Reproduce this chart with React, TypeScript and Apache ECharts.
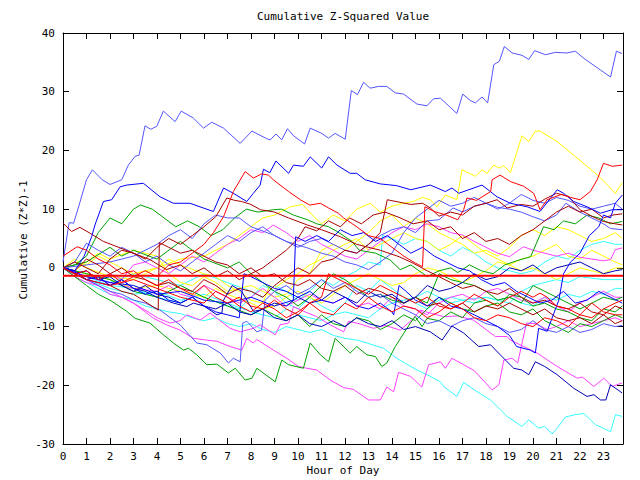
import React, { useEffect, useRef } from "react";
import * as echarts from "echarts";

const TITLE = "Cumulative Z-Squared Value";
const X_NAME = "Hour of Day";
const Y_NAME = "Cumulative (Z*Z)-1";
const X_MIN = 0;
const X_MAX = 23.83;
const Y_MIN = -30;
const Y_MAX = 40;
const REF_LEVEL = -1.35;

const sb1 = [[0,1],[0.26,7.7],[0.45,7.6],[0.65,10.2],[1.0,15],[1.25,16.7],[1.67,15],[2.0,14.2],[2.5,15],[2.78,17.5],[3.07,19],[3.24,19.2],[3.49,24.2],[3.73,23.6],[3.99,24.1],[4.27,26.7],[4.77,24.9],[5.03,26.7],[5.55,25.5],[5.98,23.8],[6.33,24.8],[6.83,23.8],[7.54,21.2],[8.04,23.3],[8.67,22],[8.82,21.8],[9.06,22.8],[9.31,21.8],[9.55,23.7],[9.81,22.5],[10.28,21.1],[10.52,23.8],[11.01,22.9],[11.3,22.1],[11.58,22.9],[12.01,21.9],[12.27,30.2],[12.53,29.5],[12.79,31.6],[13.07,30.6],[13.43,30.9],[13.78,30.9],[14.14,29.8],[14.49,29.6],[15.06,27.9],[15.49,27.6],[15.77,28.8],[16.06,28.9],[16.76,26.3],[17.01,29.6],[17.33,28.5],[17.55,28.1],[17.83,29.1],[18.07,28.1],[18.33,34.6],[18.57,35.2],[18.78,37.7],[19.11,36.6],[19.53,36.2],[19.82,35.5],[20.07,37],[20.53,36.3],[20.95,36.7],[21.45,36.6],[21.8,36.9],[22.16,35.7],[22.87,33.7],[23.3,32.5],[23.55,36.9],[23.79,36.5]];

const b2 = [[0,0],[0.5,-0.5],[0.9,2],[1.22,5.3],[1.36,7.3],[1.72,11.3],[2.07,11.6],[2.43,13.8],[2.71,14.1],[3.42,14.4],[4.13,12.1],[4.7,11],[5.4,11],[6.4,9.6],[6.83,13.6],[7.25,12.7],[7.82,11.3],[8.1,12.7],[8.39,14.1],[8.53,16.8],[8.8,16.2],[9.06,18.2],[9.6,16.1],[9.81,17.5],[10.23,17.3],[10.52,18.9],[11.01,17],[11.3,18.9],[11.66,17.5],[12.22,16.1],[12.5,16.1],[12.86,15],[13.5,14.3],[14.2,14],[14.8,13.3],[15.63,14.1],[16.27,13],[16.55,13.6],[16.84,12.7],[17.83,14.1],[18.47,12.1],[19.04,11],[19.75,10.4],[20.3,9.6],[21.03,13.3],[21.3,12.7],[21.73,11.3],[22.3,10.4],[22.87,9.3],[23.37,9.9],[23.79,9.9]];

const r1 = [[0,0],[0.5,-1],[1,-0.5],[1.5,-2],[2,-1],[2.5,-2.5],[3,-1.5],[3.5,-0.5],[4,-1.5],[4.5,0.5],[5,1],[5.5,2.5],[6,4],[6.4,6],[6.83,8.7],[7.25,13],[7.75,16.4],[8.1,15.3],[8.45,16],[8.74,15.8],[8.95,15],[9.6,13],[10.1,11.6],[10.5,10.7],[10.95,11],[11.3,10.2],[11.72,9.3],[11.94,8.5],[12.5,7],[13,5.5],[13.5,5],[14,3.5],[14.5,2],[15,0.8],[15.3,0.2],[15.4,10.4],[15.8,9.6],[16.3,9],[16.8,8.2],[17.05,9.9],[17.19,11.9],[17.6,11.5],[18.2,13],[18.26,15],[18.6,15.8],[19.04,14.7],[19.6,13.9],[20.03,12.7],[20.3,9.9],[20.6,11.6],[21.2,12.5],[21.6,12],[22,11.6],[22.44,13],[22.73,15],[23,17.8],[23.37,17.3],[23.79,17.5]];

const y1 = [[0,0],[0.5,1],[1,0.5],[1.5,2],[2,1],[3,-1],[4,0],[5,1.5],[6,2],[7,4],[8,7],[8.5,8.5],[9,9],[9.67,10.4],[10.2,10.8],[10.6,9],[11,7.5],[11.5,9],[12,8],[12.5,10],[13.07,11],[13.5,9.5],[14,10.5],[14.5,11],[14.9,11.3],[15.3,12],[15.63,11.6],[15.91,10.4],[16.27,12.4],[16.76,11.6],[16.98,16.7],[17.55,15.6],[17.83,16.7],[18.04,16.1],[18.33,17.5],[18.55,17],[18.76,17.4],[19.04,16.2],[19.53,22.5],[19.82,21.5],[20.1,23.3],[20.3,23.3],[21.03,21.5],[21.73,19.2],[22.3,17.3],[22.8,15.6],[23.2,14],[23.5,12.7],[23.8,14.5]];

const dr1 = [[0,7.6],[0.37,6.2],[0.72,6.9],[1.15,5.9],[1.72,4.5],[2.43,3.4],[3,2.5],[3.7,1.4],[4.4,-0.3],[5,0.5],[5.5,-1],[6,0],[6.5,-1.5],[7,-0.5],[7.5,-2],[8,-1],[8.5,0],[9,1.5],[9.5,3],[10,5],[10.3,7],[10.8,6.3],[11.3,8],[11.8,7],[12.2,8.5],[12.7,7.5],[13.2,9],[13.7,9.5],[14.3,8.6],[14.9,7.5],[15.5,8],[16,6.5],[16.5,7],[17,5],[17.5,6],[18,4.5],[18.5,5],[19,4],[19.5,5.5],[20,6.5],[20.5,8],[21,9.5],[21.5,10.5],[22,9.5],[22.5,10],[23,8.5],[23.4,9],[23.8,9.2]];

const r2 = [[0,2],[0.6,3.6],[1,3],[1.5,1.5],[2,0.5],[2.5,-1],[3,-0.5],[3.5,-2],[4,-3],[4.5,-2],[5,-3.5],[5.5,-4.5],[6,-3],[6.5,-5],[7,-6],[7.5,-5],[8,-6.5],[8.5,-7],[9,-5.5],[9.5,-7],[10,-8],[10.5,-6],[11,-7.5],[11.5,-8],[12,-6],[12.5,-7],[13,-5],[13.5,-6.5],[14,-7.5],[14.5,-6.5],[15,-7],[15.5,-8.5],[16,-7.5],[16.5,-6],[17,-7],[17.5,-8.5],[18,-9],[18.5,-8],[19,-8.5],[19.5,-9.5],[20,-10],[20.5,-8.5],[21,-9],[21.5,-10],[22,-8],[22.5,-6],[23,-7.5],[23.5,-8],[23.8,-8]];

const g1 = [[0,0],[0.5,-1.5],[1,-3],[1.5,-4.5],[2,-5.5],[2.71,-7.4],[3.07,-8.6],[3.7,-9.4],[4.27,-11.4],[4.7,-12.8],[5.12,-14],[5.34,-13.7],[5.69,-14.8],[6.12,-16.5],[6.55,-16.4],[7.04,-17.9],[7.33,-17.1],[7.75,-19.1],[8.04,-18.8],[8.25,-17.1],[9.03,-19.4],[9.31,-15.7],[9.6,-16.5],[10.23,-17.1],[10.52,-12.8],[10.95,-14.8],[11.3,-16],[11.58,-12],[12.22,-14.5],[12.5,-13.4],[12.93,-14.8],[13.29,-15.1],[13.57,-16.8],[13.78,-16.2],[14.14,-13.4],[14.78,-9.4],[14.99,-8.3],[15.28,-10],[15.49,-8.6],[16,-9],[16.5,-7.5],[17,-8.5],[17.5,-6],[18,-5.5],[18.5,-6.5],[19,-4.5],[19.5,-5],[20,-6.5],[20.5,-6],[21,-7],[21.5,-7.5],[22,-8.5],[22.5,-9],[23,-7],[23.5,-7.5],[23.8,-6.5]];

const m1 = [[0,0],[0.5,-1],[1,-2],[1.5,-3],[2,-4],[2.5,-5],[3,-6],[3.5,-7.5],[3.85,-8.6],[4.41,-9.7],[4.98,-10.6],[5.55,-12],[6.1,-12.3],[6.55,-12.5],[7.11,-13.4],[7.61,-14],[7.82,-12],[8.1,-12.8],[8.25,-12.2],[8.95,-14],[9.52,-15.4],[10.02,-16.8],[10.38,-17.1],[10.8,-17.4],[11.37,-19.1],[11.94,-20.4],[12.36,-20.7],[13,-22.5],[13.5,-22.5],[13.78,-20.3],[14.07,-21.1],[14.28,-17.8],[14.8,-18.5],[15.27,-20.3],[15.56,-16.5],[16.06,-16],[16.27,-17.1],[16.55,-15.4],[17.05,-16.5],[17.5,-17.5],[18.26,-20.8],[18.55,-19.9],[18.76,-15.7],[19.11,-15.4],[19.35,-16.2],[19.72,-9.4],[20.1,-9.5],[20.6,-10.5],[21,-10],[21.5,-9],[22,-10],[22.5,-9.5],[23,-9],[23.5,-8.5],[23.8,-9]];

const m2 = [[0,0],[0.5,-1.5],[1,-2.5],[1.5,-3],[2,-4.5],[2.5,-5],[3,-6],[3.7,-7.7],[4.06,-8.6],[4.56,-9.4],[4.98,-9],[5.27,-8],[5.83,-8.9],[6.26,-7.7],[7.11,-10.3],[7.54,-10.9],[8.1,-10.3],[8.39,-9.7],[9.03,-11.4],[9.24,-9.7],[9.6,-9.4],[9.81,-6.6],[10.3,-7.5],[10.8,-8.3],[11.37,-9.7],[11.94,-10.9],[12.15,-9.1],[12.6,-9.5],[13.21,-10.3],[13.7,-9.8],[14.35,-10.6],[14.92,-8.6],[15.2,-7.2],[15.63,-7.7],[16.2,-8.3],[16.8,-8.2],[17.47,-8.9],[18.4,-11.7],[18.9,-11.7],[19.04,-12.3],[20.17,-14.5],[21.03,-16.8],[21.88,-18.8],[22.1,-18.6],[22.59,-20.2],[23.01,-18.8],[23.37,-20.2],[23.79,-19.6]];

const c1 = [[0,0],[0.5,-1.5],[1,-2.5],[1.5,-3.5],[2,-4.5],[2.5,-5],[3,-5.5],[3.5,-6.5],[4,-7],[4.5,-7.5],[5,-7.8],[5.5,-8.5],[6,-9],[6.5,-8.5],[7,-9.5],[7.5,-10],[8,-9.5],[8.5,-10.5],[9,-11],[9.5,-10],[10,-10.5],[10.5,-11],[11,-10.5],[11.5,-11.5],[12,-12],[12.5,-12.3],[12.93,-12.8],[13.64,-13.7],[14.2,-15.4],[15.06,-17.4],[15.49,-18.2],[16.06,-19.4],[16.2,-20.2],[16.76,-21.9],[17.05,-19.5],[17.62,-21.1],[18.19,-22.5],[18.9,-25.3],[19.53,-27],[19.82,-25.9],[20.24,-27.3],[20.5,-27],[20.81,-28.3],[21.03,-27.3],[21.38,-25.4],[21.8,-25],[22.16,-24.8],[22.66,-26.7],[23.3,-27.9],[23.51,-25],[23.79,-25.3]];

const nv1 = [[0,0],[0.5,-1],[1,-0.5],[1.5,-2],[2,-1.5],[2.5,-3],[3,-4],[3.5,-3],[4,-4.5],[4.5,-5],[5,-6],[5.5,-5],[6,-6.5],[6.5,-7],[7,-6],[7.5,-7.5],[8,-8],[8.5,-7],[9,-8.5],[9.5,-9],[10,-8],[10.5,-9.5],[11,-10],[11.5,-9],[12,-10],[12.5,-8.5],[13,-9.5],[13.5,-10],[14,-9],[14.5,-10.5],[15,-10],[15.63,-10.9],[16.13,-12.3],[16.55,-9.9],[17.05,-11.1],[17.69,-13.4],[18.19,-13.1],[18.9,-16],[19.18,-17.1],[19.53,-17.4],[19.82,-18.2],[20.1,-16],[20.5,-16.8],[21.03,-18.2],[21.73,-20.5],[22.3,-21.9],[22.59,-21.6],[22.87,-22.5],[23.1,-22.5],[23.3,-19.9],[23.79,-21.3]];

const b3 = [[0,0],[0.5,-0.5],[1,-2],[1.5,-1.5],[2,-3],[2.5,-2],[3,-3.5],[3.5,-4.5],[4,-4],[4.5,-5.5],[5,-6],[5.5,-5],[6,-6.5],[6.5,-7.5],[7,-8],[7.5,-8.5],[7.7,-1],[8,-1.5],[8.5,-2.5],[9,-3.5],[9.5,-4],[10,-5],[10.5,-4],[11,-5.5],[11.5,-6],[12,-5],[12.5,-6.5],[13,-7],[13.5,-6],[14,-7.5],[14.07,-8],[14.3,-3],[14.6,-4],[15,-5.5],[15.5,-6.5],[16,-5],[16.5,-6.5],[17,-7],[17.5,-8],[18,-9],[18.5,-10],[19,-11.5],[19.3,-13.4],[19.88,-14],[20.1,-14.5],[20.24,-10.3],[20.6,-10.8],[21.1,-5.5],[21.3,-1],[21.6,1],[22,2.5],[22.4,5.5],[22.8,7],[23,9],[23.3,8.5],[23.5,11],[23.8,12.4]];

const b4 = [[0,0],[1,-1.5],[2,-2.5],[3,-3],[4,-4.5],[5,-4],[6,-5.5],[7,-6],[8,-5],[9,-6.5],[9.8,-5.5],[9.9,5.3],[10.3,4.5],[10.8,5.5],[11.3,4.5],[11.8,6.5],[12.3,5.5],[12.8,6],[13.3,4.5],[13.8,5.5],[14.3,4],[14.8,2.5],[15.3,3.5],[15.8,2],[16.3,1],[16.8,0],[17.3,-0.5],[17.8,-2],[18.3,-3],[18.8,-2.5],[19.3,-4],[19.8,-5],[20.3,-6],[20.8,-5.5],[21.3,-4],[21.8,-6],[22.3,-5.5],[22.8,-4],[23.3,-5],[23.8,-6]];

const g2 = [[0,0],[0.5,0.5],[1,2],[1.5,6],[2,8.5],[2.5,7.5],[3,10],[3.3,10.7],[3.8,10],[4.3,8.5],[4.8,7],[5.3,8],[5.8,7],[6.3,5.5],[6.8,6.5],[7.3,8.5],[7.8,10],[8.3,9.5],[8.95,9.9],[9.3,10],[9.8,9],[10.4,8.2],[10.8,7.5],[11.3,7],[11.66,6.2],[12.3,4.5],[12.6,3],[13.3,2.5],[13.9,1.4],[14.35,-0.3],[14.8,0.5],[15.5,-1.5],[16,-0.5],[16.5,0],[16.8,-0.8],[17.3,0.5],[17.8,-0.5],[18.3,-1],[18.8,0.5],[19.3,1.2],[19.9,1.9],[20.45,7],[20.9,6.5],[21.3,8],[21.8,7.5],[22.3,9],[22.8,8.5],[23.3,7.5],[23.8,7.9]];

const g3 = [[0,0],[1,1],[2,3.5],[2.5,2],[3,3],[4,1.5],[5,4.5],[5.5,3],[6,1.5],[7,0],[7.5,1],[8,-1],[8.5,-2.5],[9,-4],[9.5,-5],[10,-6.5],[10.5,-5],[11,-3],[11.5,-1],[12,-2],[12.5,-3.5],[13,-5],[13.5,-4.5],[14,-5.5],[14.5,-6],[15,-5],[15.5,-6],[16,-1],[16.5,-2],[17,-2.5],[17.5,-3],[18,-4],[18.5,-5.5],[19,-5],[19.5,-6],[20,-3],[20.5,-4],[21,-5],[21.5,-6],[22,-7],[22.5,-6],[23,-5],[23.5,-5.5],[23.8,-5]];

const g4 = [[0,0],[1,-1],[2,-2],[3,-4],[4,-5],[5,-3],[6,-5],[7,-6.5],[8,-8],[8.5,-7],[9,-8],[9.5,-9],[10,-8],[10.5,-10],[11,-8],[11.5,-9.5],[12,-10],[12.5,-8.5],[13,-9],[13.5,-10.5],[14,-9.5],[14.5,-8],[15,-9],[15.5,-7],[16,-5],[16.5,-6],[17,-7],[17.5,-7.5],[18,-6.5],[18.5,-6],[19,-7.5],[19.5,-8],[20,-7],[20.5,-9],[21,-10],[21.5,-11],[22,-9.5],[22.5,-10],[23,-9],[23.5,-8],[23.8,-8.5]];

const c2 = [[0,0],[1,-1.5],[2,-3],[3,-3.5],[4,-5],[5,-6],[5.5,-4],[6,-5],[7,-6.5],[7.5,-7],[8,-5],[8.5,-3],[9,-4],[9.5,-6],[10,-7],[10.5,-5],[11,-6.5],[11.5,-7.5],[12,-6],[12.5,-3],[13,-4],[13.5,-2],[14,-3.5],[14.5,-5],[15,-6],[15.5,-7],[16,-5.5],[16.5,-5],[17,-5.5],[17.5,-6],[18,-5],[18.5,-5.5],[19,-5],[19.5,-6],[20,-6.5],[20.5,-5],[21,-5.5],[21.5,-4.5],[22,-5],[22.5,-4],[23,-4.5],[23.5,-3.5],[23.8,-3.5]];

const c3 = [[0,0],[1,-1],[2,-2.5],[3,-1],[4,-2],[5,-3],[6,-1],[7,-2.5],[8,-4],[8.5,-5],[9,-3],[9.5,-4],[10,-5.5],[10.5,-4],[11,-2],[11.5,-3],[12,-1.5],[12.5,-0.5],[13,1],[13.5,0.5],[13.6,5.5],[14,5],[14.5,4],[15,5],[15.5,4.5],[16,3],[16.5,2],[17,3.5],[17.5,2.5],[18,1],[18.5,0],[19,-0.5],[19.5,-1],[20,-0.5],[20.5,1],[21,2],[21.5,1.5],[22,3],[22.5,4],[23,4.5],[23.5,4],[23.8,4]];

const c4 = [[0,0],[1,-2],[2,-3.5],[3,-4.5],[4,-4],[5,-5.5],[6,-4.5],[7,-6],[8,-7.5],[9,-8.5],[9.5,-7],[10,-8],[11,-9],[11.5,-8],[12,-7.5],[13,-8.5],[13.5,-7],[14,-6],[15,-5],[15.5,-4],[16,-5],[16.5,-6],[17,-5.5],[18,-5],[18.5,-5.5],[19,-6],[19.5,-4],[20,-3],[21,-2],[21.5,-2.5],[22,-1.5],[23,-2],[23.8,-2]];

const y2 = [[0,0],[0.5,1.5],[1,0],[2,-1.5],[3,-2],[4,0],[4.5,1.5],[5,0.5],[6,-1],[6.5,-1.5],[7,-3],[7.5,-4],[8,-5.5],[8.5,-6],[8.8,-3],[9,-3.5],[9.5,-2],[10,-1],[10.5,0.5],[11,1.5],[11.5,3],[12,4],[12.5,5],[13,3],[13.5,4],[14,5],[14.5,6],[15,5],[15.5,4.5],[16,3],[16.5,4],[17,5.5],[17.5,4],[18,2.5],[18.5,1.5],[19,0.5],[19.5,1.5],[20,2],[20.5,3],[21,4],[21.5,2],[22,1.5],[22.5,3],[23,2],[23.5,1],[23.8,0.5]];

const y3 = [[0,0],[0.5,-0.5],[1,1],[1.5,2.5],[2,1.5],[3,3],[4,2],[4.5,-1],[5,-2.5],[5.5,-3],[6,-1.5],[6.5,-2.5],[7,-4],[8,-3],[8.5,-4],[9,-5],[9.5,-4.5],[10,-2],[10.5,-1],[11,3],[11.5,4],[12,3],[12.5,4.5],[13,6],[13.5,8],[14,9],[14.5,7],[15,8.5],[15.5,7.5],[16,6],[16.5,5],[17,4],[17.5,2.5],[18,3],[18.5,2],[19,3.5],[19.5,5.5],[20,6.5],[20.5,5.5],[21,7],[21.5,6.5],[22,5.5],[22.5,4.5],[23,5],[23.5,6],[23.8,5]];

const y4 = [[0,0],[1,-1],[2,-2],[3,-3.5],[4,-3],[5,-4],[6,-5],[6.5,-3.5],[7,-4.5],[8,-6],[8.5,-7],[9,-6.5],[9.5,-5],[10,-4],[10.5,-5],[11,-6],[11.5,-4.5],[12,-3],[12.5,-2],[13,-1],[13.5,-2],[14,-3],[14.5,-2.5],[15,-1],[15.5,0],[16,-0.5],[16.5,-1.5],[17,-2.5],[17.5,-1.5],[18,-0.5],[18.5,1],[19,0.5],[19.5,-0.5],[20,0],[20.5,-1],[21,-2],[21.5,-1],[22,0],[22.5,-0.5],[23,-1],[23.5,0],[23.8,0]];

const dr2 = [[0,0],[0.5,-1],[1,-2],[1.5,-1.5],[2,-3],[2.5,-4],[3,-4.5],[3.4,-5.5],[4.05,-7.2],[4.1,4.3],[4.5,3.5],[5,2.5],[5.5,3],[6,2],[6.5,1],[7,0.5],[7.5,-1],[8,0],[8.5,-1.5],[9,-1],[9.5,-2.5],[10,-3],[10.5,-2],[11,-3.5],[11.5,-4],[12,-3],[12.5,-4.5],[13,-3.5],[13.5,-4],[14,-5],[14.5,-6],[15,-5],[15.5,-6.5],[16,-6],[16.5,-7],[17,-6],[17.5,-7.5],[18,-6.5],[18.5,-7],[19,-6],[19.5,-7],[20,-8],[20.5,-7],[21,-8.5],[21.5,-9],[22,-8.5],[22.5,-9.5],[23,-8],[23.5,-9.5],[23.8,-9]];

const dr3 = [[0,0],[0.5,1],[1,0],[1.5,-1],[2,1.5],[2.5,3],[3,2.5],[3.5,1.5],[4,3.5],[4.5,5],[5,4],[5.5,5.5],[6,7],[6.5,8.7],[6.97,11.9],[7.3,11.5],[7.6,11.3],[8,10.8],[8.4,9.9],[9,9.5],[9.6,8.5],[10.4,7.3],[11,6.5],[11.8,5.3],[12.5,4],[13.5,3],[14.3,1.9],[14.9,0.8],[15.5,-0.5],[16,-1.5],[16.5,-2.5],[17,-3.5],[17.5,-3],[18,-4],[18.5,-4.5],[19,-3.5],[19.5,-5],[20,-6],[20.5,-5.5],[21,-6.5],[21.5,-7],[22,-6],[22.5,-7.5],[23,-8],[23.5,-6.5],[23.8,-7]];

const dr4 = [[0,0],[0.5,-0.5],[1,1.5],[1.5,0.5],[2,-1],[2.5,0],[3,-1.5],[3.5,-2],[4,-3],[4.5,-2.5],[5,-3.5],[5.5,-4],[6,-2],[6.5,-3],[7,-4.5],[7.5,-3.5],[8,-4],[8.5,-5],[9,-3],[9.5,-1.5],[10,0],[10.5,-1],[11,1],[11.5,1.5],[12,3],[12.5,2.5],[13,4],[13.5,6],[13.8,11.6],[14.3,11.2],[14.8,10.8],[15.3,11],[15.63,10.2],[16,8.8],[16.5,9.5],[17,9],[17.5,10.5],[18,11],[18.47,11.6],[18.9,10.2],[19.5,10.8],[20,10.5],[20.5,11.7],[21,12.7],[21.5,12.2],[22,9.9],[22.5,8.8],[23,7.9],[23.5,7.5],[23.8,7.3]];

const sb2 = [[0,0],[0.5,1],[1,4.2],[1.5,3],[2,2],[2.5,3.5],[3,2.5],[3.5,1],[4,2],[4.5,0.5],[5,-0.5],[5.5,1],[6,2.5],[6.5,4],[7,5.5],[7.5,4.5],[8,6],[8.5,7],[9,5.5],[9.5,4.5],[10,3.5],[10.5,4.5],[11,5],[11.5,4],[12,3],[12.5,2.5],[13,4],[13.5,5.5],[14,6.5],[14.5,7],[15,6],[15.5,8],[16,8.2],[16.6,10.2],[17,9.5],[17.5,10.5],[18,11],[18.5,10.3],[19,10],[19.5,9.5],[20,8.7],[20.5,8],[21,9],[21.4,11],[22,9.5],[22.4,8.7],[23,7.5],[23.3,6.7],[23.8,6.5]];

const sb3 = [[0,0],[0.5,-1],[1,-2],[1.5,-3],[2,-4],[2.5,-4.5],[3,-5.5],[3.5,-6],[4.13,-7.2],[4.98,-9.7],[5.69,-12.8],[6.12,-13.1],[6.69,-14.5],[7.04,-16.2],[7.25,-15.4],[7.54,-16],[7.65,-9.4],[7.82,-9.1],[8.25,-10.9],[8.45,-10.6],[8.6,-5.5],[9,-4],[9.5,-3],[10,-4.5],[10.5,-3.5],[11,-2],[11.5,-3.5],[12,-2.5],[12.5,-4],[13,-5],[13.5,-4.5],[14,-6],[14.5,-7],[15,-8],[15.5,-9.5],[16,-9],[16.5,-10],[17,-9],[17.5,-8.5],[18,-9.5],[18.5,-10],[19,-11],[19.5,-10.5],[20,-9],[20.5,-10.5],[21,-11],[21.5,-10],[22,-11],[22.5,-10.5],[23,-9.5],[23.5,-10],[23.8,-9.8]];

const sb4 = [[0,0],[1,0.5],[2,1],[3,2],[4,4],[4.5,5.5],[5,6.5],[5.5,5],[6,7.5],[6.5,9],[7,8.5],[7.5,8.5],[8,7],[8.95,5.6],[9.5,4.5],[10.4,3.4],[11,2.5],[11.5,2],[12,1],[12.5,0.5],[13,-0.3],[13.5,1],[14,2.5],[14.5,6],[15,8.5],[15.5,10],[16,11.5],[16.5,10.5],[17,11],[17.5,12],[18,11],[18.5,10],[19,11],[19.5,12.5],[20,11.5],[20.5,11],[21,12],[21.5,11.5],[22,10.5],[22.5,10],[23,10.5],[23.5,11],[23.8,10]];

const nv2 = [[0,0],[0.5,-1],[1,-2],[1.5,-2.5],[2,-3],[2.5,-2],[3,-3.5],[3.5,-4],[4,-5],[4.7,-6],[5.27,-6.6],[5.55,-6],[6,-6.5],[6.55,-8],[6.76,-7.7],[6.83,-5.5],[7.2,-3],[7.6,-4],[8.1,-7.4],[8.39,-7.2],[9,-6],[9.5,-6.5],[10,-5],[10.5,-6],[11,-5.5],[11.5,-4],[12,-5],[12.5,-6],[13,-4],[13.5,-5],[14,-4.5],[14.5,-6],[15,-5],[15.5,-3],[16,-4],[16.5,-3.5],[17,-2.5],[17.5,-1],[18,-2],[18.5,-1.5],[19,0],[19.5,-0.5],[20,0.5],[20.5,-1],[21,0],[21.5,0.5],[22,1],[22.5,0],[23,-1],[23.5,-0.5],[23.8,-0.3]];

const m3 = [[0,0],[0.5,-1],[1,-0.5],[1.5,-2],[2,-1],[2.5,-2],[3,0.5],[3.5,1],[4,0],[4.5,-1],[5,0.5],[5.5,2],[6,1],[6.5,2.5],[7,4],[7.5,5],[8,6.5],[8.5,6],[8.95,7.3],[9.5,6],[10,4.5],[10.5,5.5],[11,4],[11.5,3],[12,2],[12.5,1.5],[13,3],[13.5,4.5],[14,6],[14.5,7],[15,6.5],[15.5,7.5],[16,7],[16.5,6],[17,5.6],[17.5,4.5],[18,3.5],[18.5,2.5],[19,1.9],[19.6,3.6],[20,3],[20.5,2.5],[21,2],[21.5,2.5],[22,1.8],[22.5,1.5],[23,1.2],[23.3,1.4],[23.5,3.1],[23.8,3.4]];

const m4 = [[0,0],[1,-1.5],[2,-2.5],[3,-3.5],[4,-4],[4.5,-3],[5,-4.5],[5.5,-5],[6,-3],[6.5,-4],[7,-5],[7.5,-6],[8,-5],[8.5,-3.5],[9,-5],[9.5,-6.5],[10,-5.5],[10.5,-4.5],[11,-5.5],[11.5,-6],[12,-5],[12.5,-6.5],[13,-6],[13.5,-7],[14,-5],[14.5,-6.5],[15,-7],[15.5,-8],[16,-6],[16.5,-5],[17,-4.5],[17.5,-5.5],[18,-4],[18.5,-3.5],[19,-4.5],[19.5,-5.5],[20,-6],[20.5,-5],[21,-6.5],[21.5,-7.5],[22,-6],[22.5,-5],[23,-4],[23.5,-5],[23.8,-5]];

const r3 = [[0,0],[1,-2],[2,-3],[3,-2],[4,-3.5],[5,-5],[6,-6],[6.5,-4],[7,-5],[7.5,-6.5],[8,-7.5],[8.5,-6],[9,-7],[9.5,-8.5],[10,-7.5],[10.5,-6],[11,-5],[11.3,-1],[11.5,-1.5],[12,-2.5],[12.5,-3.5],[13,-4.5],[13.5,-3],[14,-4],[14.5,-5],[15,-6],[15.5,-5],[16,-6.5],[16.5,-7],[17,-6],[17.5,-4.5],[18,-5.5],[18.5,-6.5],[19,-5],[19.5,-4],[20,-5],[20.3,-4.3],[20.6,-5],[21,-6.5],[21.5,-7],[22,-8],[22.5,-8.5],[23,-7],[23.5,-6],[23.8,-5.5]];

const refLine = [[X_MIN, REF_LEVEL], [X_MAX, REF_LEVEL]];

const C = {
  red: "#ff0000",
  green: "#00a000",
  blue: "#0000ff",
  magenta: "#ff40ff",
  cyan: "#33ffff",
  darkred: "#a80000",
  yellow: "#ffff00",
  slate: "#5555ff",
  navy: "#0000b4",
};

const SERIES: [string, string, number[][]][] = [
  ["c1", C.cyan, c1], ["c2", C.cyan, c2], ["c3", C.cyan, c3], ["c4", C.cyan, c4],
  ["y2", C.yellow, y2], ["y3", C.yellow, y3], ["y4", C.yellow, y4], ["y1", C.yellow, y1],
  ["m1", C.magenta, m1], ["m2", C.magenta, m2], ["m3", C.magenta, m3], ["m4", C.magenta, m4],
  ["g1", C.green, g1], ["g2", C.green, g2], ["g3", C.green, g3], ["g4", C.green, g4],
  ["sb2", C.slate, sb2], ["sb3", C.slate, sb3], ["sb4", C.slate, sb4], ["sb1", C.slate, sb1],
  ["dr1", C.darkred, dr1], ["dr2", C.darkred, dr2], ["dr3", C.darkred, dr3], ["dr4", C.darkred, dr4],
  ["nv1", C.navy, nv1], ["nv2", C.navy, nv2],
  ["b2", C.blue, b2], ["b3", C.blue, b3], ["b4", C.blue, b4],
  ["r2", C.red, r2], ["r3", C.red, r3], ["r1", C.red, r1],
];

const FONT = "DejaVu Sans Mono";

export default function App() {
  const ref = useRef<HTMLDivElement>(null);
  useEffect(() => {
    if (!ref.current) return;
    const chart = echarts.init(ref.current, undefined, { renderer: "svg" });
    const axisCommon = {
      type: "value" as const,
      axisLine: { show: true, onZero: false, lineStyle: { color: "#000", width: 1 } },
      axisTick: { show: true, inside: true, length: 6, lineStyle: { color: "#000" } },
      splitLine: { show: false },
    };
    const lines = SERIES.map(([name, color, data]) => ({
      name,
      type: "line",
      data,
      showSymbol: false,
      symbol: "none",
      silent: true,
      lineStyle: { color, width: 1 },
      itemStyle: { color },
      emphasis: { disabled: true },
      z: 2,
    }));
    lines.push({
      name: "ref",
      type: "line",
      data: refLine,
      showSymbol: false,
      symbol: "none",
      silent: true,
      lineStyle: { color: C.red, width: 2 },
      itemStyle: { color: C.red },
      emphasis: { disabled: true },
      z: 3,
    } as any);
    chart.setOption({
      animation: false,
      backgroundColor: "#ffffff",
      grid: { left: 63, right: 17, top: 33, bottom: 36, containLabel: false },
      graphic: [
        { type: "text", x: 343, y: 16, style: { text: TITLE, font: `11px '${FONT}'`, fill: "#000", textAlign: "center", textVerticalAlign: "middle" } },
        { type: "text", x: 343, y: 470, style: { text: X_NAME, font: `11px '${FONT}'`, fill: "#000", textAlign: "center", textVerticalAlign: "middle" } },
        { type: "text", x: 23, y: 240, rotation: Math.PI / 2, style: { text: Y_NAME, font: `11px '${FONT}'`, fill: "#000", textAlign: "center", textVerticalAlign: "middle" } },
      ],
      xAxis: [
        {
          ...axisCommon,
          position: "bottom",
          min: X_MIN,
          max: X_MAX,
          interval: 1,
          axisLabel: {
            show: true,
            margin: 7,
            color: "#000",
            fontFamily: FONT,
            fontSize: 11,
            showMaxLabel: false,
            formatter: (v: number) => (Number.isInteger(v) ? String(v) : ""),
          },
        },
        {
          ...axisCommon,
          position: "top",
          min: X_MIN,
          max: X_MAX,
          interval: 1,
          axisLabel: { show: false },
        },
      ],
      yAxis: [
        {
          ...axisCommon,
          position: "left",
          min: Y_MIN,
          max: Y_MAX,
          interval: 10,
          axisLabel: { show: true, margin: 8, color: "#000", fontFamily: FONT, fontSize: 11 },
        },
        {
          ...axisCommon,
          position: "right",
          min: Y_MIN,
          max: Y_MAX,
          interval: 10,
          axisLabel: { show: false },
        },
      ],
      series: lines,
    });
    return () => chart.dispose();
  }, []);
  return (
    <div
      ref={ref}
      style={{ position: "fixed", left: 0, top: 0, width: 640, height: 480, background: "#fff" }}
    />
  );
}
